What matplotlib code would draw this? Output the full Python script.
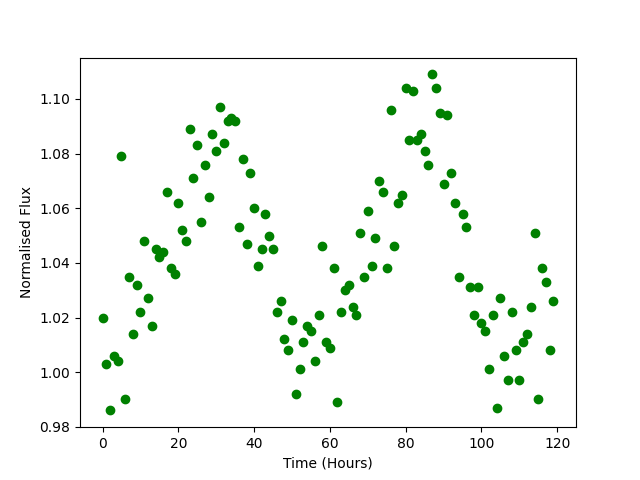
import numpy as np
import matplotlib
matplotlib.use('Agg')
import matplotlib.pyplot as plt

# time in hours, one reading per hour
time = np.arange(0, 120)

# normalised flux
flux = [1.020, 1.003, 0.986, 1.006, 1.004, 1.079, 0.990, 1.035, 1.014, 1.032,
        1.022, 1.048, 1.027, 1.017, 1.045, 1.042, 1.044, 1.066, 1.038, 1.036,
        1.062, 1.052, 1.048, 1.089, 1.071, 1.083, 1.055, 1.076, 1.064, 1.087,
        1.081, 1.097, 1.084, 1.092, 1.093, 1.092, 1.053, 1.078, 1.047, 1.073,
        1.060, 1.039, 1.045, 1.058, 1.050, 1.045, 1.022, 1.026, 1.012, 1.008,
        1.019, 0.992, 1.001, 1.011, 1.017, 1.015, 1.004, 1.021, 1.046, 1.011,
        1.009, 1.038, 0.989, 1.022, 1.030, 1.032, 1.024, 1.021, 1.051, 1.035,
        1.059, 1.039, 1.049, 1.070, 1.066, 1.038, 1.096, 1.046, 1.062, 1.065,
        1.104, 1.085, 1.103, 1.085, 1.087, 1.081, 1.076, 1.109, 1.104, 1.095,
        1.069, 1.094, 1.073, 1.062, 1.035, 1.058, 1.053, 1.031, 1.021, 1.031,
        1.018, 1.015, 1.001, 1.021, 0.987, 1.027, 1.006, 0.997, 1.022, 1.008,
        0.997, 1.011, 1.014, 1.024, 1.051, 0.990, 1.038, 1.033, 1.008, 1.026]

plt.figure(figsize=(6.4, 4.8), dpi=100)
plt.plot(time, flux, 'o', color='green')
plt.xlabel('Time (Hours)')
plt.ylabel('Normalised Flux')
plt.savefig('out.png')
